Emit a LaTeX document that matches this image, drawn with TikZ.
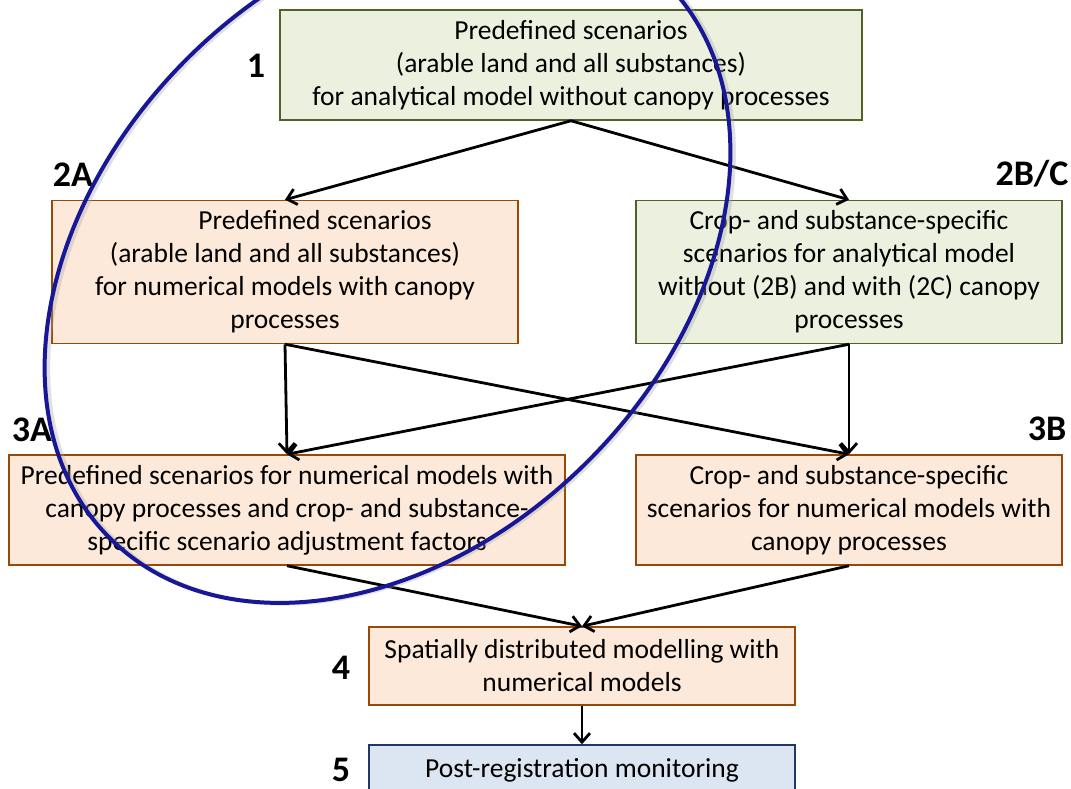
\documentclass[tikz,border=0pt]{standalone}
\usepackage{fontspec}
\setmainfont{Carlito}
\usetikzlibrary{arrows.meta}

\definecolor{greenfill}{HTML}{EBF1DE}
\definecolor{greenline}{HTML}{4F6228}
\definecolor{orangefill}{HTML}{FDE9D9}
\definecolor{orangeline}{HTML}{984807}
\definecolor{bluefill}{HTML}{DCE6F2}
\definecolor{blueline}{HTML}{1F3864}
\definecolor{ringblue}{RGB}{24,24,150}

\tikzset{
  box/.style={draw, line width=1.5pt, align=center, inner sep=0pt,
    font=\fontsize{27.5}{33}\selectfont},
  greenbox/.style={box, fill=greenfill, draw=greenline},
  orangebox/.style={box, fill=orangefill, draw=orangeline},
  bluebox/.style={box, fill=bluefill, draw=blueline},
  steplabel/.style={anchor=base, inner sep=0pt, font=\fontsize{36}{36}\selectfont\bfseries},
  flow/.style={line width=2.8pt, -{Straight Barb[length=9pt,width=16pt,line width=2.8pt]}}
}

\begin{document}
\begin{tikzpicture}[x=1pt, y=-1pt]
\useasboundingbox (0,0) rectangle (1071,788);

% boxes
\node[greenbox, minimum width=582pt, minimum height=110pt] (s1) at (571,65)
  {Predefined scenarios\\(arable land and all substances)\\for analytical model without canopy processes};
\node[orangebox, minimum width=466pt, minimum height=143pt] (s2a) at (285,272)
  {\hspace*{60pt}Predefined scenarios\\(arable land and all substances)\\for numerical models with canopy\\processes};
\node[greenbox, minimum width=426pt, minimum height=143pt] (s2bc) at (849,272)
  {Crop- and substance-specific\\scenarios for analytical model\\without (2B) and with (2C) canopy\\processes};
\node[orangebox, minimum width=556pt, minimum height=110pt] (s3a) at (287,510)
  {Predefined scenarios for numerical models with\\canopy processes and crop- and substance-\\specific scenario adjustment factors};
\node[orangebox, minimum width=426pt, minimum height=110pt] (s3b) at (849,510)
  {Crop- and substance-specific\\scenarios for numerical models with\\canopy processes};
\node[orangebox, minimum width=426pt, minimum height=78pt] (s4) at (582,666)
  {Spatially distributed modelling with\\numerical models};
\node[bluebox, minimum width=426pt, minimum height=50pt] (s5) at (582,770)
  {Post-registration monitoring};

% step numbers
\node[steplabel] (l1) at (256,77) {1};
\node[steplabel] (l2a) at (73,186) {2A};
\node[steplabel] (l2bc) at (1032,185) {2B/C};
\node[steplabel] (l3a) at (32,441) {3A};
\node[steplabel] (l3b) at (1047,440) {3B};
\node[steplabel] (l4) at (341,679) {4};
\node[steplabel] (l5) at (341,781) {5};

% connectors
\draw[flow] (s1.south) -- (s2a.north);
\draw[flow] (s1.south) -- (s2bc.north);
\draw[flow] (s2a.south) -- (s3a.north);
\draw[flow] (s2a.south) -- (s3b.north);
\draw[flow] (s2bc.south) -- (s3b.north);
\draw[flow] (s2bc.south) -- (s3a.north);
\draw[flow] (s3a.south) -- (s4.north);
\draw[flow] (s3b.south) -- (s4.north);
\draw[flow] (s4.south) -- (s5.north);

% highlighted group
\coordinate (ringc) at (387.5,260);
\draw[black!35, opacity=0.35, line width=4pt, rotate around={45:(ringc)}]
  ([shift={(2,3)}]ringc) ellipse [x radius=393, y radius=284];
\draw[ringblue, line width=4pt, rotate around={45:(ringc)}]
  (ringc) ellipse [x radius=393, y radius=284];
\end{tikzpicture}
\end{document}
